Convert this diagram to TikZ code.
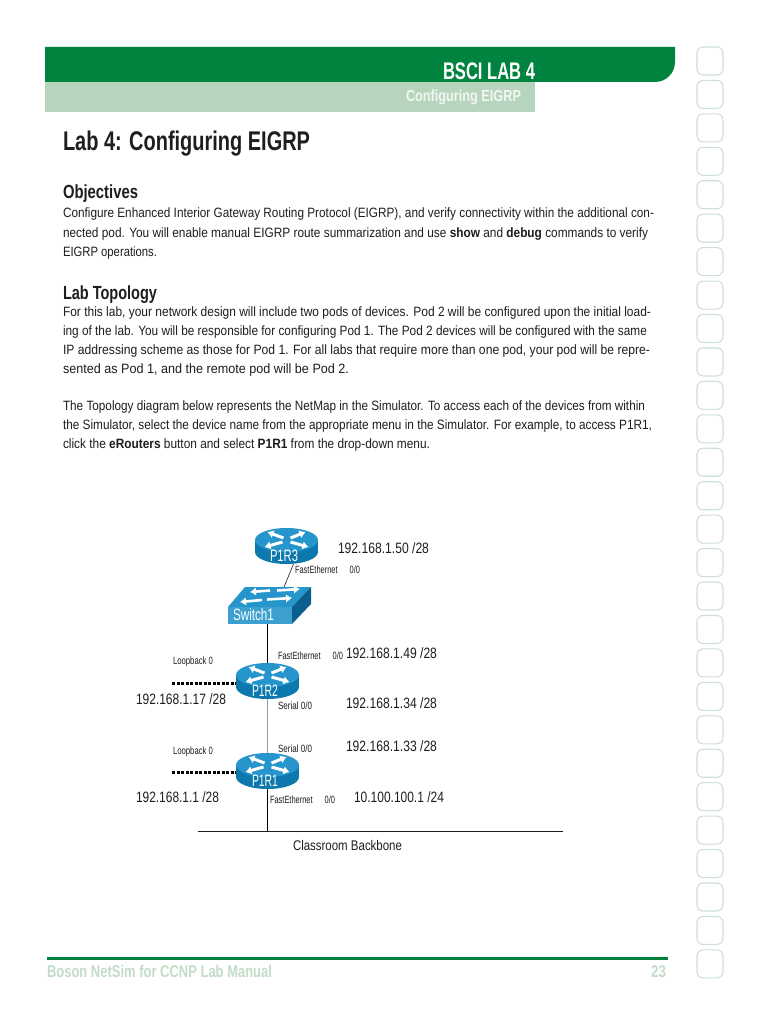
\documentclass[tikz,border=0pt]{standalone}
\usepackage{fontspec}
\usepackage{graphicx}
\setmainfont{Liberation Sans}
\usetikzlibrary{arrows.meta}
\definecolor{hgreen}{HTML}{00833F}
\definecolor{lgreen}{HTML}{B7D5BD}
\definecolor{ftxt}{HTML}{C2DCC8}
\definecolor{ringc}{HTML}{CFE0D5}
\definecolor{ink}{HTML}{1E1E1E}
\definecolor{rtop}{HTML}{2595CB}
\definecolor{rside}{HTML}{0C78AE}
\definecolor{swside}{HTML}{0A5F8C}
\tikzset{
 txt/.style={anchor=base west,inner sep=0pt,outer sep=0pt,text=ink},
 body/.style={txt,font=\fontsize{13.5}{13.5}\selectfont},
 head/.style={txt,font=\fontsize{19}{19}\selectfont\bfseries},
 ip/.style={txt,font=\fontsize{15}{15}\selectfont},
 small/.style={txt,font=\fontsize{10.5}{10.5}\selectfont},
 devlabel/.style={txt,text=white,font=\fontsize{16.5}{16.5}\selectfont},
 ghost/.style={inner sep=0pt,outer sep=0pt,anchor=north west},
 ring/.style={draw=ringc,line width=1.1pt,rounded corners=6pt},
 wire/.style={line width=1pt,black},
 loop/.style={line width=3pt,black,dash pattern=on 3.2pt off 1.3pt},
 farrow/.style={draw=white,line width=3pt,-{Latex[length=6pt,width=8.5pt]}},
}
% text fitted to the measured width of the line
\newcommand\fitw[2]{\resizebox{#1pt}{\height}{#2}}
% \rtr{centre x}{top-ellipse centre y}
\newcommand\rtr[2]{%
 \fill[rside] (#1-31.5,#2) -- (#1+31.5,#2) -- (#1+31.5,#2+12) -- (#1-31.5,#2+12) -- cycle;
 \fill[rside] (#1,#2+12) ellipse [x radius=31.5pt,y radius=12pt];
 \fill[rtop] (#1,#2) ellipse [x radius=31.5pt,y radius=12pt];
 \draw[farrow] (#1-3,#2-2) -- (#1-19,#2-8);
 \draw[farrow] (#1+4,#2-2) -- (#1+19,#2-8);
 \draw[farrow] (#1-4,#2+2) -- (#1-22,#2+7);
 \draw[farrow] (#1+4,#2+2) -- (#1+22,#2+7);
}
\begin{document}
\begin{tikzpicture}[x=1pt,y=-1pt]
\useasboundingbox (0,0) rectangle (768,1024);
\fill[white] (0,0) rectangle (768,1024);
% header
\fill[lgreen] (45,82) rectangle (535,112);
\fill[hgreen] (45,47) -- (675,47) [rounded corners=20pt] -- (675,82) [sharp corners] -- (45,82) -- cycle;
\node[txt,text=white,font=\fontsize{24}{24}\selectfont\bfseries] (hd1) at (443,80) {\fitw{92}{BSCI LAB 4}};
\node[txt,text=white!80!lgreen,font=\fontsize{16}{16}\selectfont\bfseries] (hd2) at (406,102) {\fitw{115}{Configuring EIGRP}};
% binder rings
\foreach \i in {0,...,27}{\draw[ring] (697,47+33.44*\i) rectangle (723,75+33.44*\i);}
% text
\node[txt,font=\fontsize{27}{27}\selectfont\bfseries] (title) at (63,151) {\fitw{247}{Lab 4: Configuring EIGRP}};
\node[head] (obj) at (63,199) {\fitw{75}{Objectives}};
\node[body] (a1) at (63,218) {\fitw{591}{Configure Enhanced Interior Gateway Routing Protocol (EIGRP), and verify connectivity within the additional con-}};
\node[body] (a2) at (63,237) {\fitw{585}{nected pod. You will enable manual EIGRP route summarization and use \textbf{show} and \textbf{debug} commands to verify}};
\node[body] (a3) at (63,256) {\fitw{94}{EIGRP operations.}};
\node[head] (top) at (63,299) {\fitw{94}{Lab Topology}};
\node[body] (b1) at (63,316) {\fitw{588}{For this lab, your network design will include two pods of devices. Pod 2 will be configured upon the initial load-}};
\node[body] (b2) at (63,335) {\fitw{584}{ing of the lab. You will be responsible for configuring Pod 1. The Pod 2 devices will be configured with the same}};
\node[body] (b3) at (63,354) {\fitw{587}{IP addressing scheme as those for Pod 1. For all labs that require more than one pod, your pod will be repre-}};
\node[body] (b4) at (63,373) {\fitw{286}{sented as Pod 1, and the remote pod will be Pod 2.}};
\node[body] (c1) at (63,410) {\fitw{582}{The Topology diagram below represents the NetMap in the Simulator. To access each of the devices from within}};
\node[body] (c2) at (63,429) {\fitw{589}{the Simulator, select the device name from the appropriate menu in the Simulator. For example, to access P1R1,}};
\node[body] (c3) at (63,448) {\fitw{367}{click the \textbf{eRouters} button and select \textbf{P1R1} from the drop-down menu.}};
% topology: device bounding nodes first so that wires can use them
\node[ghost,minimum width=63pt,minimum height=36pt] (r3) at (255,528) {};
\node[ghost,minimum width=83pt,minimum height=37pt] (sw) at (228,587) {};
\node[ghost,minimum width=63pt,minimum height=36pt] (r2) at (236,663) {};
\node[ghost,minimum width=63pt,minimum height=36pt] (r1) at (236,753) {};
\coordinate (bbL) at (198,831);
\coordinate (bbR) at (563,831);
\coordinate (lo2) at (172,683);
\coordinate (lo1) at (172,772);
% wires
\draw[line width=.6pt,ink] ([xshift=7pt]r3.south) -- ([xshift=14.5pt]sw.north);
\draw[wire] (sw.south -| r2.north) -- (r2.north);
\draw[line width=1pt,black!40] (r2.south) -- (r1.north);
\draw[wire] (r1.south) -- (r1.south |- bbL);
\draw[line width=1pt,ink] (bbL) -- (bbR);
\draw[loop] (lo2) -- (lo2 -| r2.west);
\draw[loop] (lo1) -- (lo1 -| r1.west);
% devices
\rtr{286.5}{540}
\rtr{267.5}{675}
\rtr{267.5}{765}
\fill[rtop] (228,607) -- (245,587) -- (311,587) -- (292,607) -- cycle;
\fill[swside] (292,607) -- (311,587) -- (311,604) -- (292,624) -- cycle;
\fill[rtop!90!white] (228,607) rectangle (292,624);
\draw[farrow,line width=2.6pt] (270,590.5) -- (250,592);
\draw[farrow,line width=2.6pt] (277,590.5) -- (300,589);
\draw[farrow,line width=2.6pt] (262,600) -- (240,602);
\draw[farrow,line width=2.6pt] (267,599.5) -- (292,598);
\node[devlabel] (lr3) at (270,561) {\fitw{28}{P1R3}};
\node[devlabel] (lsw) at (233,620) {\fitw{41}{Switch1}};
\node[devlabel] (lr2) at (252,696) {\fitw{26}{P1R2}};
\node[devlabel] (lr1) at (252,786) {\fitw{26}{P1R1}};
% labels
\node[ip] (i50) at (338,553) {\fitw{91}{192.168.1.50 /28}};
\node[ip] (i49) at (346,658) {\fitw{91}{192.168.1.49 /28}};
\node[ip] (i17) at (136,704) {\fitw{90}{192.168.1.17 /28}};
\node[ip] (i34) at (346,708) {\fitw{91}{192.168.1.34 /28}};
\node[ip] (i33) at (346,751) {\fitw{91}{192.168.1.33 /28}};
\node[ip] (i1) at (136,802) {\fitw{83}{192.168.1.1 /28}};
\node[ip] (i10) at (354,802) {\fitw{90}{10.100.100.1 /24}};
\node[small] (f3) at (295,573) {\fitw{65}{FastEthernet\hspace{1.6em}0/0}};
\node[small] (f2) at (278,659) {\fitw{65}{FastEthernet\hspace{1.6em}0/0}};
\node[small] (f1) at (270,803) {\fitw{65}{FastEthernet\hspace{1.6em}0/0}};
\node[small] (l2) at (173,664) {\fitw{40}{Loopback 0}};
\node[small] (l1) at (173,754) {\fitw{40}{Loopback 0}};
\node[small] (s2) at (278,709) {\fitw{34}{Serial 0/0}};
\node[small] (s1) at (278,752) {\fitw{34}{Serial 0/0}};
\node[txt,font=\fontsize{14}{14}\selectfont] (cb) at (293,850) {\fitw{109}{Classroom Backbone}};
% footer
\fill[hgreen] (47,957) rectangle (668,960);
\node[txt,text=ftxt,font=\fontsize{17}{17}\selectfont\bfseries] (fl) at (47,977) {\fitw{225}{Boson NetSim for CCNP Lab Manual}};
\node[txt,text=ftxt,font=\fontsize{17}{17}\selectfont\bfseries] (fr) at (651,977) {\fitw{15}{23}};
\end{tikzpicture}
\end{document}
